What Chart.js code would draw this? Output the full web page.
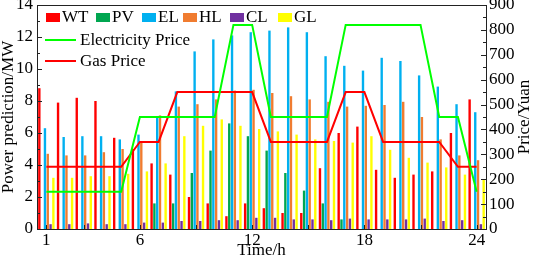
<!DOCTYPE html>
<html>
<head>
<meta charset="utf-8">
<script src="https://cdn.jsdelivr.net/npm/chart.js@4.4.1/dist/chart.umd.min.js"></script>
<style>
  html, body { margin: 0; padding: 0; background: #fff; }
  #box { width: 533px; height: 259px; }
</style>
</head>
<body>
<div id="box"><canvas id="powerChart" width="533" height="259"></canvas></div>
<script>
const hours = ["1","2","3","4","5","6","7","8","9","10","11","12","13","14","15","16","17","18","19","20","21","22","23","24"];
const xTickLabels = ["1","6","12","18","24"];

// power prediction, MW
const wt = [8.8, 7.9, 8.2, 8.0, 5.7, 5.0, 4.1, 3.4, 2.0, 1.6, 0.8, 1.6, 1.3, 1.0, 1.0, 3.8, 6.0, 6.4, 3.7, 3.2, 3.4, 3.6, 6.0, 8.1];
const pv = [0, 0, 0, 0, 0, 0, 1.6, 1.6, 3.5, 4.9, 6.6, 5.8, 4.9, 3.5, 2.4, 1.6, 0.6, 0, 0, 0, 0, 0, 0, 0];
const el = [6.3, 5.75, 5.8, 5.8, 5.6, 5.9, 7.0, 8.6, 11.1, 11.85, 12.1, 12.3, 12.4, 12.6, 12.3, 10.8, 10.2, 9.9, 10.7, 10.5, 9.6, 8.9, 7.8, 7.3];
const hl = [4.7, 4.6, 4.6, 4.8, 5.0, 5.5, 7.1, 7.65, 7.8, 8.1, 8.65, 8.7, 8.5, 8.3, 8.1, 7.95, 7.65, 7.7, 7.75, 7.95, 7.0, 5.6, 4.6, 4.3];
const cl = [0.3, 0.3, 0.35, 0.3, 0.3, 0.4, 0.4, 0.5, 0.5, 0.55, 0.55, 0.7, 0.7, 0.6, 0.6, 0.55, 0.65, 0.6, 0.6, 0.6, 0.65, 0.5, 0.55, 0.3];
const gl = [3.2, 3.2, 3.3, 3.3, 3.45, 3.6, 4.1, 5.8, 6.45, 6.85, 6.45, 6.25, 6.1, 5.9, 5.6, 5.5, 5.4, 5.8, 4.95, 4.45, 4.15, 3.85, 3.4, 3.1];

// prices, Yuan
const elecPrice = [150, 150, 150, 150, 150, 450, 450, 450, 450, 450, 820, 820, 450, 450, 450, 450, 820, 820, 820, 820, 820, 450, 450, 150];
const gasPrice = [250, 250, 250, 250, 250, 350, 350, 550, 550, 550, 550, 550, 350, 350, 350, 350, 550, 550, 350, 350, 350, 350, 250, 250];

const FONT = "'Liberation Serif'";
const frameColor = "#222";

function bar(label, data, color) {
  return {
    type: "bar", label, data, backgroundColor: color, borderWidth: 0,
    categoryPercentage: 0.9, barPercentage: 0.85, yAxisID: "y", order: 1
  };
}
function priceLine(label, data, color) {
  return {
    type: "line", label, data, borderColor: color, backgroundColor: color,
    borderWidth: 2, pointRadius: 0, tension: 0, yAxisID: "y1", order: 0
  };
}

function stroke(ctx, x1, y1, x2, y2) {
  ctx.beginPath(); ctx.moveTo(x1, y1); ctx.lineTo(x2, y2); ctx.stroke();
}

const decor = {
  id: "decor",
  afterDatasetsDraw(chart) {
    const { ctx, chartArea: a, scales } = chart;
    ctx.save();
    ctx.strokeStyle = frameColor;
    ctx.lineWidth = 1;
    stroke(ctx, a.left, a.top + 0.5, a.right, a.top + 0.5);
    for (let v = 0; v <= 14; v++) {
      const y = Math.round(scales.y.getPixelForValue(v)) + 0.5;
      stroke(ctx, a.left, y, a.left + (v % 2 ? 3 : 5), y);
    }
    for (let v = 0; v <= 900; v += 50) {
      const y = Math.round(scales.y1.getPixelForValue(v)) + 0.5;
      stroke(ctx, a.right, y, a.right - (v % 100 ? 3 : 5), y);
    }
    [0, 2, 5, 8, 11, 14, 17, 20, 23].forEach(i => {
      const x = Math.round(scales.x.getPixelForValue(i)) + 0.5;
      stroke(ctx, x, a.bottom, x, a.bottom - 4);
    });
    ctx.restore();
  },
  afterDraw(chart) {
    const { ctx, chartArea: a, data } = chart;
    ctx.save();
    ctx.font = "17px " + FONT;
    ctx.fillStyle = "#000";
    ctx.textBaseline = "middle";
    ctx.textAlign = "left";
    // legend, first row: bar series
    const swatchX = [46, 96, 142, 183, 230, 278];
    data.datasets.filter(d => d.type === "bar").forEach((d, i) => {
      ctx.fillStyle = d.backgroundColor;
      ctx.fillRect(swatchX[i], 13, 14, 9);
      ctx.fillStyle = "#000";
      ctx.fillText(d.label, swatchX[i] + 16, 18);
    });
    // legend, price lines
    data.datasets.filter(d => d.type === "line").forEach((d, i) => {
      const y = 40 + i * 21;
      ctx.strokeStyle = d.borderColor;
      ctx.lineWidth = 2;
      stroke(ctx, 45, y, 76, y);
      ctx.fillText(d.label, 80, y + 1);
    });
    // right axis title, reading bottom to top
    ctx.translate(525, (a.top + a.bottom) / 2);
    ctx.rotate(-Math.PI / 2);
    ctx.textAlign = "center";
    ctx.fillText("Price/Yuan", 0, 0);
    ctx.restore();
  }
};

function draw() {
  new Chart(document.getElementById("powerChart"), {
    data: {
      labels: hours,
      datasets: [
        bar("WT", wt, "#ff0000"),
        bar("PV", pv, "#00a650"),
        bar("EL", el, "#00b0f0"),
        bar("HL", hl, "#f07c30"),
        bar("CL", cl, "#7030a0"),
        bar("GL", gl, "#ffff00"),
        priceLine("Electricity Price", elecPrice, "#00ff00"),
        priceLine("Gas Price", gasPrice, "#ff0000")
      ]
    },
    options: {
      responsive: false,
      animation: false,
      layout: { padding: { top: 5, left: 0, right: 0, bottom: 0 } },
      plugins: { legend: { display: false }, tooltip: { enabled: false } },
      scales: {
        x: {
          type: "category",
          offset: true,
          grid: { display: false, drawTicks: false },
          border: { display: true, color: frameColor, width: 1 },
          ticks: {
            autoSkip: false, maxRotation: 0, padding: 1, color: "#000",
            font: { family: FONT, size: 17 },
            callback: function (v) {
              const l = this.getLabelForValue(v);
              return xTickLabels.includes(l) ? l : "";
            }
          },
          title: { display: true, text: "Time/h", color: "#000", font: { family: FONT, size: 17, lineHeight: 1 }, padding: 0 },
          afterFit: s => { s.height = 30; s.paddingLeft = 0; s.paddingRight = 0; }
        },
        y: {
          position: "left", min: 0, max: 14,
          grid: { display: false, drawTicks: false },
          border: { display: true, color: frameColor, width: 1 },
          ticks: { stepSize: 2, padding: 4, color: "#000", font: { family: FONT, size: 17 } },
          title: { display: true, text: "Power prediction/MW", color: "#000", font: { family: FONT, size: 17, lineHeight: 1 }, padding: 0 },
          afterFit: s => { s.width = 37; s.paddingTop = 0; s.paddingBottom = 0; }
        },
        y1: {
          position: "right", min: 0, max: 900,
          grid: { display: false, drawTicks: false },
          border: { display: true, color: frameColor, width: 1 },
          ticks: { stepSize: 100, padding: 3, color: "#000", font: { family: FONT, size: 17 } },
          afterFit: s => { s.width = 47; s.paddingTop = 0; s.paddingBottom = 0; }
        }
      }
    },
    plugins: [decor]
  });
}

document.fonts.load("17px " + FONT).then(draw, draw);
</script>
</body>
</html>
